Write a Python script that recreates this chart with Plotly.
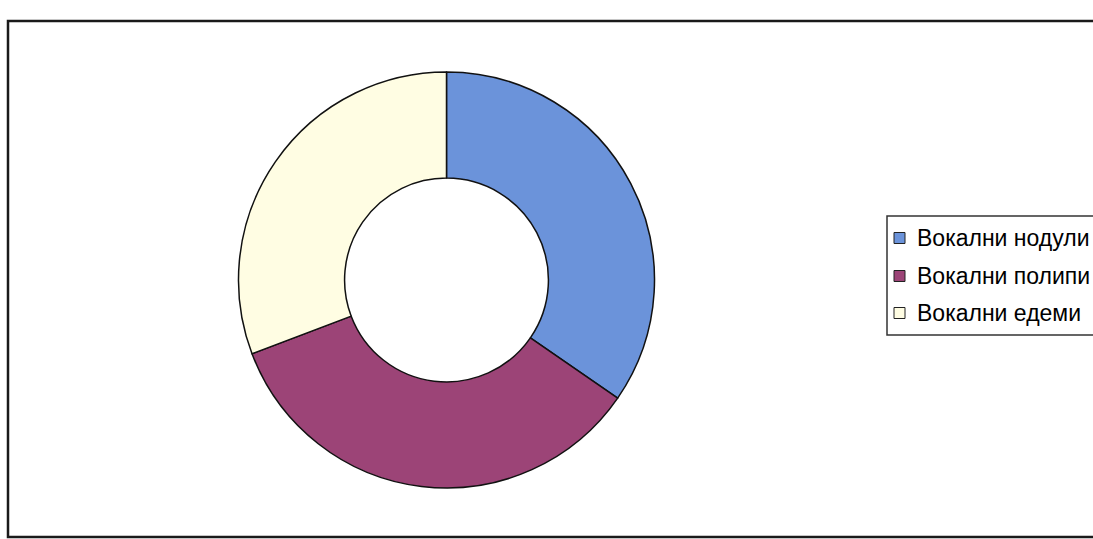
import plotly.graph_objects as go

labels = ["Вокални нодули", "Вокални полипи", "Вокални едеми"]
values = [9, 9, 8]
colors = ["#6B93DA", "#9C4477", "#FFFDE3"]

W, H = 1093, 539

def px(x):
    return x / W

def py(y):
    return 1 - y / H

cx, cy, d = 446.5, 280, 416

fig = go.Figure(go.Pie(
    labels=labels,
    values=values,
    hole=0.49,
    sort=False,
    direction="clockwise",
    rotation=0,
    textinfo="none",
    hoverinfo="label+value+percent",
    marker=dict(colors=colors, line=dict(color="#111111", width=1.5)),
    domain=dict(x=[px(cx - d / 2), px(cx + d / 2)], y=[py(cy + d / 2), py(cy - d / 2)]),
    showlegend=False,
))

shapes = [
    # outer frame
    dict(type="rect", xref="paper", yref="paper", x0=px(8), x1=px(1110), y0=py(537), y1=py(21),
         line=dict(color="#1a1a1a", width=2.5)),
    # legend box
    dict(type="rect", xref="paper", yref="paper", x0=px(887), x1=px(1110), y0=py(335), y1=py(216),
         line=dict(color="#333333", width=1.5), fillcolor="white"),
]
annotations = []
row_y = [238, 276, 313]
for lab, col, yy in zip(labels, colors, row_y):
    shapes.append(dict(type="rect", xref="paper", yref="paper", x0=px(894), x1=px(905),
                       y0=py(yy + 5.5), y1=py(yy - 5.5), fillcolor=col,
                       line=dict(color="#222222", width=1)))
    annotations.append(dict(text=lab, xref="paper", yref="paper", x=px(915), y=py(yy),
                            xanchor="left", yanchor="middle", showarrow=False,
                            font=dict(family="Liberation Sans, Arial", size=23, color="#000000")))

fig.update_layout(
    width=W, height=H,
    margin=dict(l=0, r=0, t=0, b=0),
    paper_bgcolor="white",
    plot_bgcolor="white",
    shapes=shapes,
    annotations=annotations,
)

fig.write_html("out.html", config={"displayModeBar": False},
               post_script="document.body.style.margin='0';document.body.style.overflow='hidden';")
